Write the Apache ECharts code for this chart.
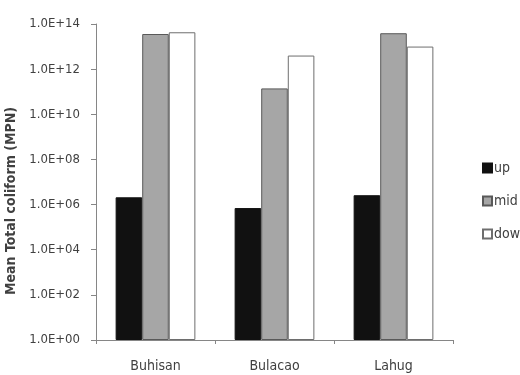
<!DOCTYPE html>
<html>
<head>
<meta charset="utf-8">
<script src="https://cdn.jsdelivr.net/npm/echarts@6/dist/echarts.min.js"></script>
<style>
  html, body { margin: 0; padding: 0; background: #ffffff; }
  #chart { width: 520px; height: 375px; }
</style>
</head>
<body>
<div id="chart"></div>
<script>
// Sampling sites along the river
const sites = ['Buhisan', 'Bulacao', 'Lahug'];

// Mean total coliform (MPN) per station
const upValues = [2.1e6, 7.0e5, 2.6e6];
const midValues = [3.6e13, 1.4e11, 3.9e13];
const downValues = [4.3e13, 4.0e12, 1.0e13];

const seriesNames = ['up', 'mid', 'down'];
const yAxisTitle = 'Mean Total coliform (MPN)';

const FONT = '"DejaVu Sans Condensed", Roboto, sans-serif';
const TEXT = '#404040';

function sciLabel(v) {
  const e = Math.round(Math.log10(v));
  return '1.0E+' + (e < 10 ? '0' + e : String(e));
}

const chart = echarts.init(document.getElementById('chart'), null, { renderer: 'canvas' });

chart.setOption({
  animation: false,
  backgroundColor: '#ffffff',
  grid: { left: 96, right: 67, top: 24, bottom: 35, containLabel: false, outerBoundsMode: 'none' },
  legend: {
    orient: 'vertical',
    left: 477,
    top: 156,
    itemWidth: 9,
    itemHeight: 9,
    itemGap: 19,
    icon: 'rect',
    textStyle: { fontFamily: FONT, fontSize: 14, color: TEXT, padding: [0, 0, 0, -3] },
    data: seriesNames
  },
  xAxis: {
    type: 'category',
    data: sites,
    axisLine: { lineStyle: { color: '#868686', width: 1 } },
    axisTick: { show: true, length: 4, lineStyle: { color: '#868686' } },
    axisLabel: { fontFamily: FONT, fontSize: 14, color: TEXT, margin: 19 }
  },
  yAxis: {
    type: 'log',
    logBase: 10,
    min: 1,
    max: 1e14,
    interval: 2,
    name: yAxisTitle,
    nameLocation: 'middle',
    nameGap: 59,
    nameRotate: 90,
    nameTextStyle: {
      fontFamily: FONT, fontSize: 14, fontWeight: 'bold', color: TEXT,
      padding: [0, 38, 0, 0]
    },
    axisLine: { show: true, lineStyle: { color: '#868686', width: 1 } },
    axisTick: { show: true, length: 5, lineStyle: { color: '#868686' } },
    splitLine: { show: false },
    axisLabel: { fontFamily: FONT, fontSize: 13, color: TEXT, margin: 16, formatter: sciLabel }
  },
  series: [
    {
      name: seriesNames[0], type: 'bar', data: upValues,
      barGap: '0%', barCategoryGap: '33%',
      itemStyle: { color: '#111111', borderColor: '#111111', borderWidth: 1 }
    },
    {
      name: seriesNames[1], type: 'bar', data: midValues,
      barGap: '0%', barCategoryGap: '33%',
      itemStyle: { color: '#a6a6a6', borderColor: '#595959', borderWidth: 1 }
    },
    {
      name: seriesNames[2], type: 'bar', data: downValues,
      barGap: '0%', barCategoryGap: '33%',
      itemStyle: { color: '#ffffff', borderColor: '#6e6e6e', borderWidth: 1 }
    }
  ]
});
</script>
</body>
</html>
